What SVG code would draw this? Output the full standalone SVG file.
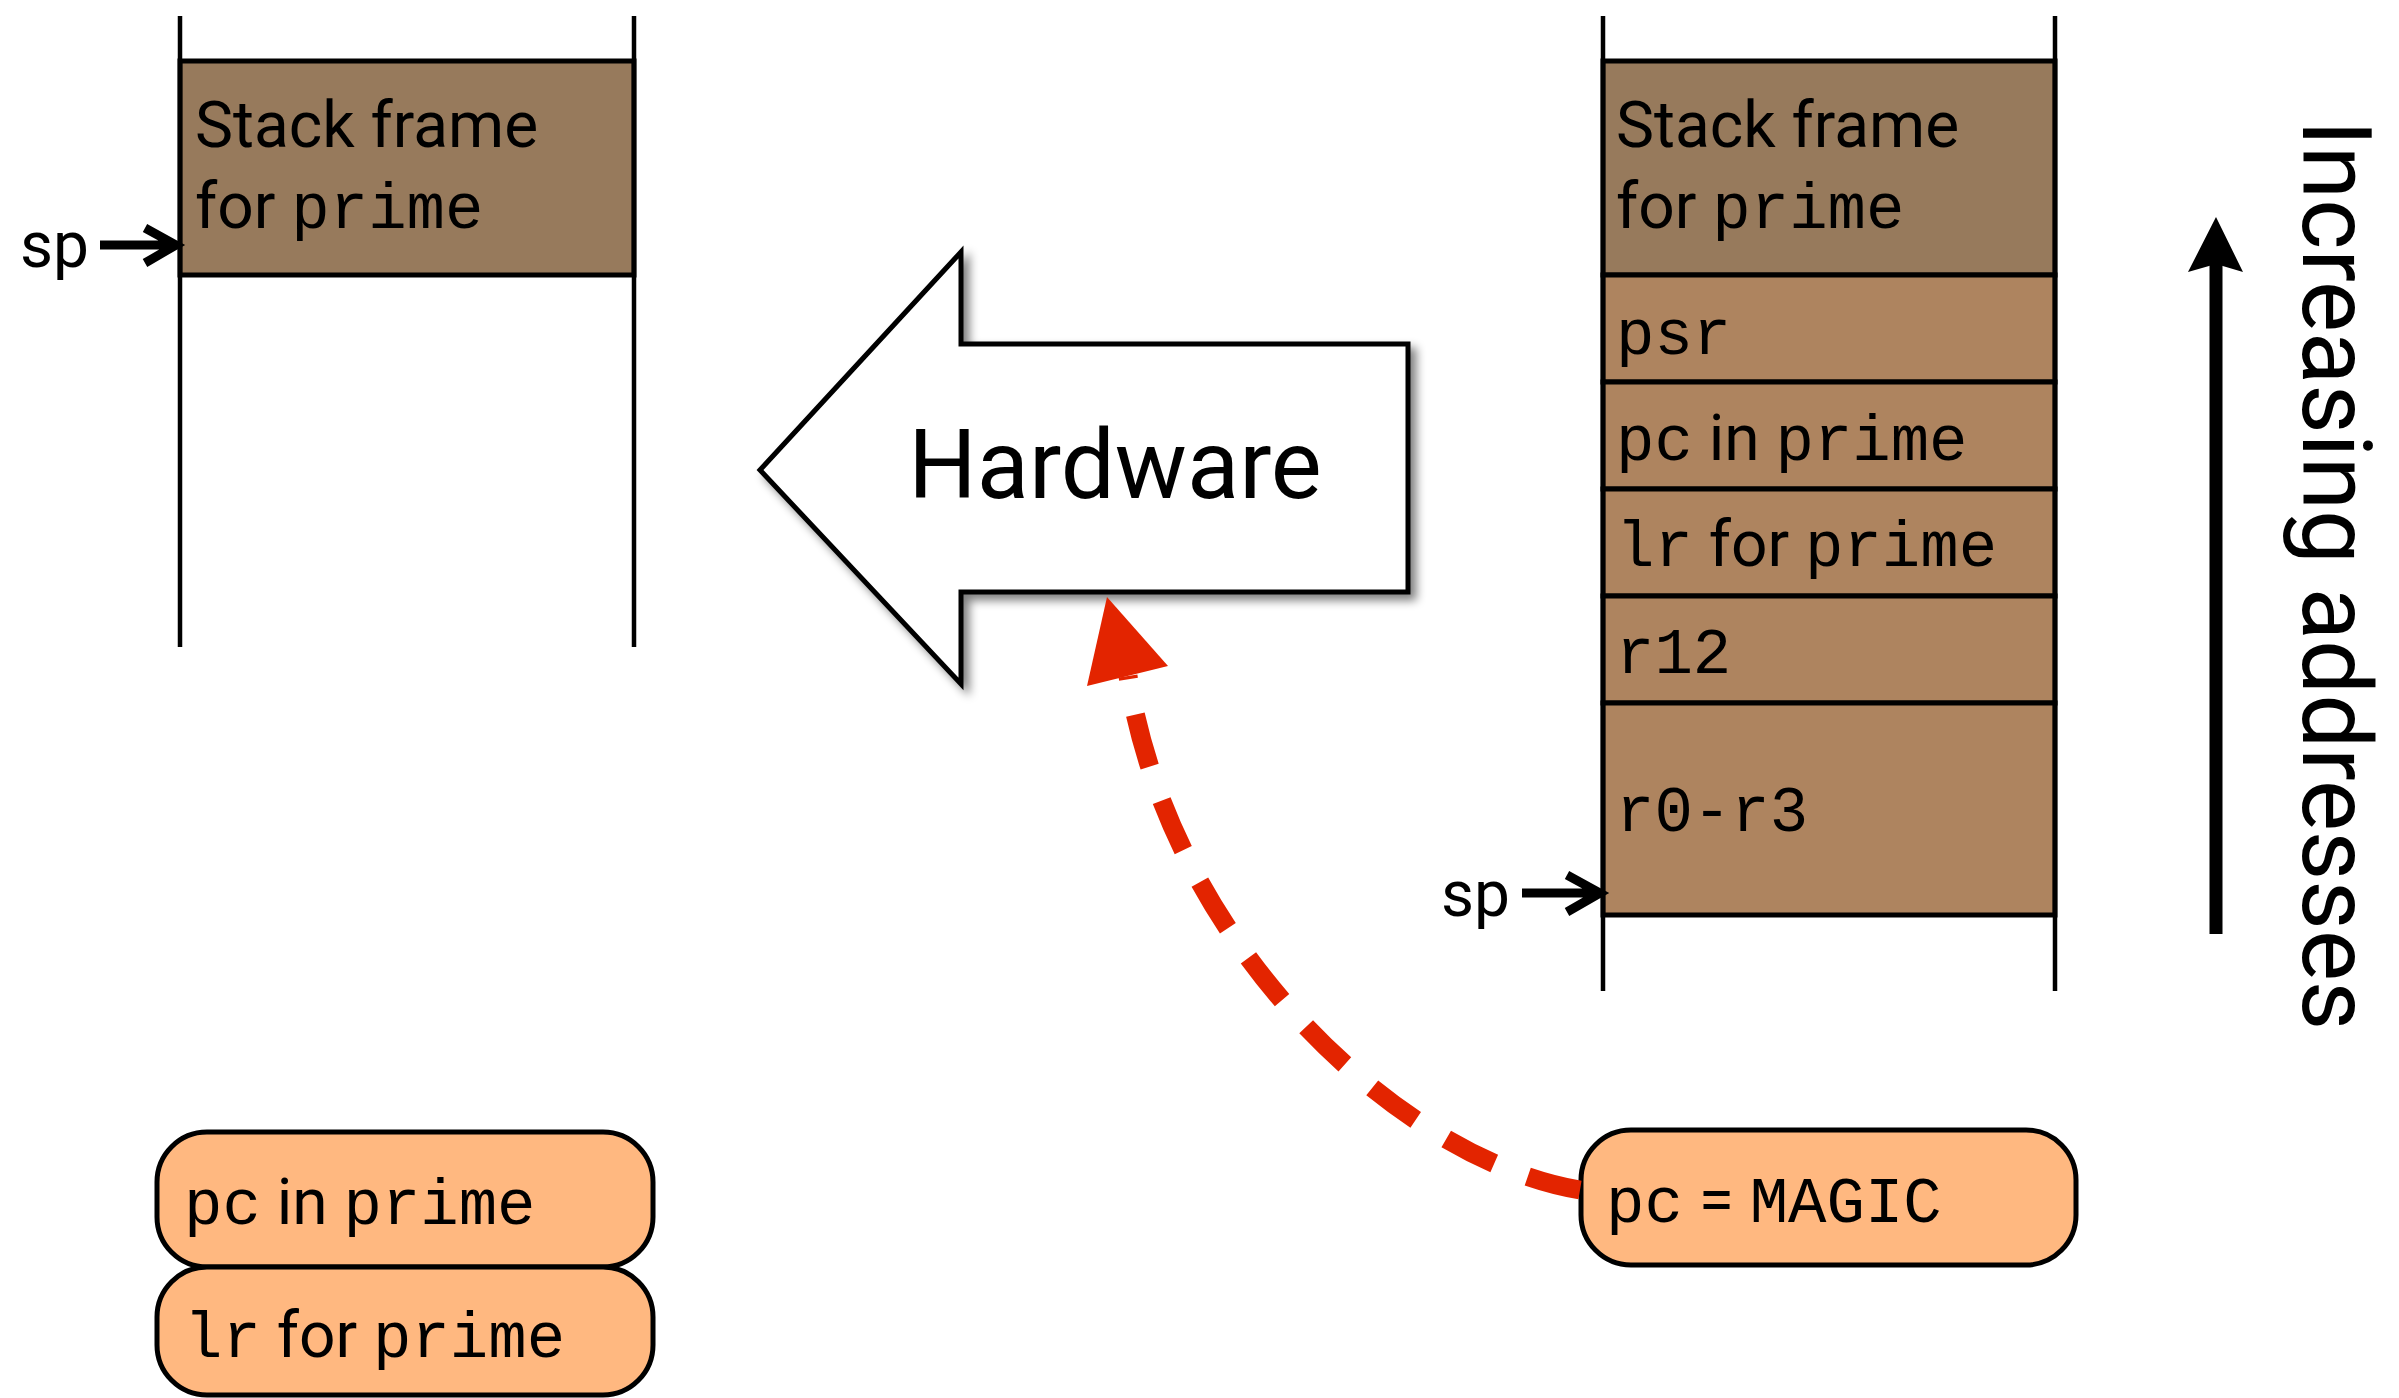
<svg xmlns="http://www.w3.org/2000/svg" width="2399" height="1398" viewBox="0 0 2399 1398">
<defs>
<style>
text{font-family:Roboto,"Liberation Sans",sans-serif;font-size:64px;fill:#000;}
.mono{font-family:"Liberation Mono","DejaVu Sans Mono",monospace;}
.rail{stroke:#000;stroke-width:4.5;fill:none}
.frame{fill:#977a5c;stroke:#000;stroke-width:5}
.slot{fill:#ae845f;stroke:#000;stroke-width:5}
.pill{fill:#ffb880;stroke:#000;stroke-width:5}
.sparrow{stroke:#000;stroke-width:9;fill:none}
.red{stroke:#e32400;stroke-width:19;fill:none;stroke-dasharray:54 36}
</style>
<filter id="shadow" x="-10%" y="-10%" width="130%" height="130%">
<feGaussianBlur in="SourceAlpha" stdDeviation="5"/>
<feOffset dx="6" dy="6"/>
<feComponentTransfer><feFuncA type="linear" slope="0.5"/></feComponentTransfer>
<feMerge><feMergeNode/><feMergeNode in="SourceGraphic"/></feMerge>
</filter>
</defs>
<rect width="2399" height="1398" fill="#fff"/>

<g id="left-stack">
<rect class="frame" x="180" y="61" width="454" height="214"/>
<line class="rail" x1="180" y1="16" x2="180" y2="647"/>
<line class="rail" x1="634" y1="16" x2="634" y2="647"/>
<text x="195" y="147">Stack frame</text>
<text x="195" y="228">for <tspan class="mono">prime</tspan></text>
</g>

<g id="left-sp">
<text x="20" y="267">sp</text>
</g>

<g id="hardware">
<polygon points="760,470 961,252 961,344 1408,344 1408,592 961,592 961,684" fill="#fff" stroke="#000" stroke-width="5" filter="url(#shadow)"/>
<text x="1115" y="498" text-anchor="middle" style="font-size:96px">Hardware</text>
</g>

<g id="right-stack">
<rect class="frame" x="1603" y="61" width="452" height="214"/>
<rect class="slot" x="1603" y="275" width="452" height="107"/>
<rect class="slot" x="1603" y="382" width="452" height="107"/>
<rect class="slot" x="1603" y="489" width="452" height="107"/>
<rect class="slot" x="1603" y="596" width="452" height="107"/>
<rect class="slot" x="1603" y="703" width="452" height="212"/>
<line class="rail" x1="1603" y1="16" x2="1603" y2="991"/>
<line class="rail" x1="2055" y1="16" x2="2055" y2="991"/>
<text x="1616" y="147">Stack frame</text>
<text x="1616" y="228">for <tspan class="mono">prime</tspan></text>
<text class="mono" x="1616" y="354">psr</text>
<text x="1616" y="460"><tspan class="mono">pc</tspan> in <tspan class="mono">prime</tspan></text>
<text x="1616" y="566"><tspan class="mono">lr</tspan> for <tspan class="mono">prime</tspan></text>
<text class="mono" x="1616" y="673">r12</text>
<text class="mono" x="1616" y="831">r0-r3</text>
</g>

<g id="right-sp">
<text x="1441" y="916">sp</text>
</g>

<g id="addresses">
<line x1="2216" y1="934" x2="2216" y2="262" stroke="#000" stroke-width="13"/>
<path d="M2216,217 L2243,272 L2216,264 L2188,272 Z" fill="#000"/>
<text transform="translate(2303,120) rotate(90)" style="font-size:96px">Increasing addresses</text>
</g>

<g id="saved-pc">
<rect class="pill" x="157" y="1132" width="496" height="135" rx="50"/>
<text x="184" y="1224"><tspan class="mono">pc</tspan> in <tspan class="mono">prime</tspan></text>
</g>
<g id="saved-lr">
<rect class="pill" x="157" y="1267" width="496" height="128" rx="50"/>
<text x="184" y="1357"><tspan class="mono">lr</tspan> for <tspan class="mono">prime</tspan></text>
</g>

<g id="magic">
<rect class="pill" x="1581" y="1130" width="495" height="135" rx="50"/>
<text x="1606" y="1222"><tspan class="mono">pc</tspan> = <tspan class="mono">MAGIC</tspan></text>
</g>

<g id="connectors">
<path class="sparrow" d="M100,245 H174 M145,228 L176,245 L145,263"/>
<path class="sparrow" d="M1522,893 H1598 M1567,875 L1600,893 L1567,912"/>
<path class="red" d="M1580,1190 C1400,1160 1170,945 1128,676"/>
<polygon points="1107,597 1168,666 1087,686" fill="#e32400"/>
</g>
</svg>
